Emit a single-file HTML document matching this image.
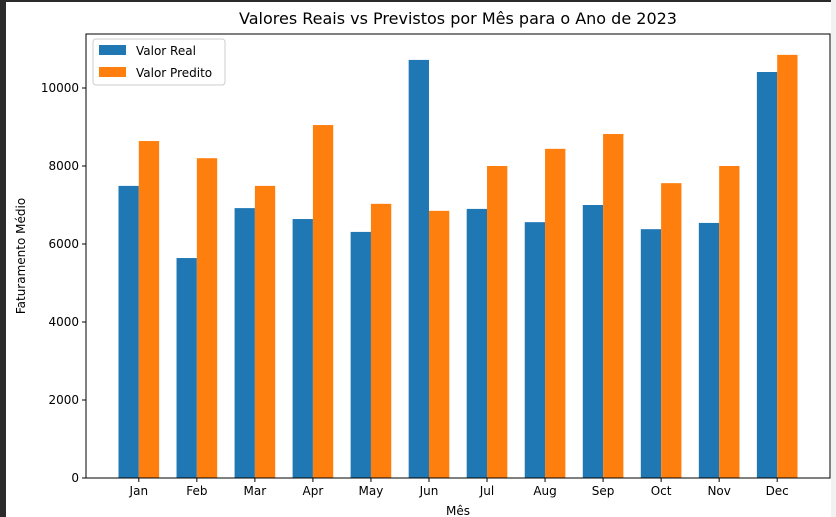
<!DOCTYPE html>
<html><head><meta charset="utf-8"><style>
html,body{margin:0;padding:0;width:836px;height:517px;overflow:hidden;background:#fff}
svg{display:block;font-family:"DejaVu Sans","Liberation Sans",sans-serif}
</style></head><body>
<svg id="chart" width="836" height="517">
<rect x="0" y="0" width="836" height="517" fill="#fff"/>
<rect x="0" y="0" width="836" height="2" fill="#2b2b2b"/>
<rect x="0" y="0" width="6" height="517" fill="#2b2b2b"/>
<rect x="831" y="0" width="5" height="517" fill="#f2f2f2"/>
<text x="458" y="24" font-size="16" text-anchor="middle">Valores Reais vs Previstos por Mês para o Ano de 2023</text>
<g id="bars"></g>
<g id="axes"></g>
<text x="458" y="515" font-size="12" text-anchor="middle">Mês</text>
<text transform="translate(25,256) rotate(-90)" font-size="12" text-anchor="middle">Faturamento Médio</text>
<g>
<rect x="93" y="39" width="132" height="46" fill="#fff" stroke="#ccc" rx="3"/>
<rect x="99" y="45" width="27" height="10" fill="#1f77b4"/>
<text x="136" y="55" font-size="12">Valor Real</text>
<rect x="99" y="67" width="27" height="10" fill="#ff7f0e"/>
<text x="136" y="77" font-size="12">Valor Predito</text>
</g>
</svg>
<script>
const categories=["Jan","Feb","Mar","Apr","May","Jun","Jul","Aug","Sep","Oct","Nov","Dec"];
const realValues=[7490,5640,6920,6640,6310,10720,6900,6560,7000,6380,6540,10410];
const predValues=[8640,8200,7490,9050,7030,6850,8000,8440,8820,7560,8000,10850];
const yTicks=[0,2000,4000,6000,8000,10000];
const NS="http://www.w3.org/2000/svg";
const L=86,R=830,T=34,B=478;
const xMin=-0.91,xMax=11.91;
function xs(v){return L+(v-xMin)/(xMax-xMin)*(R-L);}
function ys(v){return B-v*0.039;}
function mk(tag,attrs,parent){const e=document.createElementNS(NS,tag);for(const k in attrs)e.setAttribute(k,attrs[k]);parent.appendChild(e);return e;}
const bars=document.getElementById('bars'),axes=document.getElementById('axes');
const bw=0.35;
categories.forEach((c,i)=>{
  const x1=xs(i-bw),x2=xs(i),x3=xs(i+bw);
  const r=mk('rect',{x:x1,y:ys(realValues[i]),width:x2-x1,height:B-ys(realValues[i]),fill:'#1f77b4'},bars);
  
  
  const p=mk('rect',{x:x2,y:ys(predValues[i]),width:x3-x2,height:B-ys(predValues[i]),fill:'#ff7f0e'},bars);
  
  
  mk('line',{x1:x2,x2:x2,y1:B,y2:B+4,stroke:'#000','stroke-width':1},axes);
  const t=mk('text',{x:x2,y:B+17,'font-size':12,'text-anchor':'middle'},axes);
  t.textContent=c;
  
  
});
yTicks.forEach(v=>{
  const y=ys(v);
  mk('line',{x1:L-4,x2:L,y1:y,y2:y,stroke:'#000','stroke-width':1},axes);
  const t=mk('text',{x:L-7,y:y+4,'font-size':12,'text-anchor':'end'},axes);
  t.textContent=v;
  
  
});
const frame=mk('rect',{x:L,y:T,width:R-L,height:B-T,fill:'none',stroke:'#000','stroke-width':1},axes);


</script>
</body></html>
